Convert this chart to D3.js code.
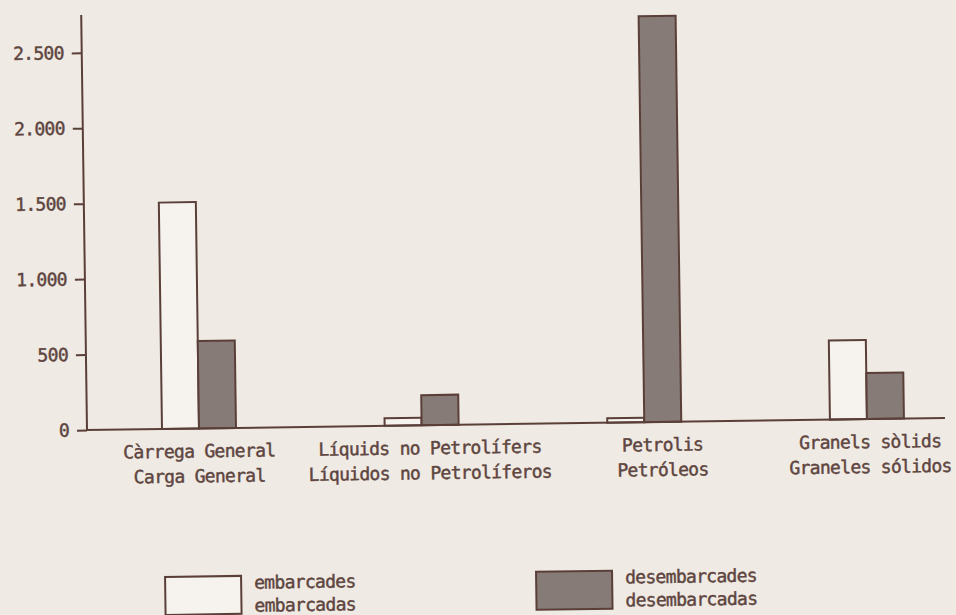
<!DOCTYPE html>
<html>
<head>
<meta charset="utf-8">
<script src="https://cdn.jsdelivr.net/npm/d3@7"></script>
<style>
  html, body { margin: 0; padding: 0; background: #efeae3; }
  svg { display: block; }
  text { font-family: 'DejaVu Sans Mono', 'Liberation Mono', monospace; font-size: 18px; letter-spacing: -0.7px; fill: #5e4540; stroke: #5e4540; stroke-width: 0.45px; }
</style>
</head>
<body>
<div id="chart"></div>
<script>
const categoriesCa = ['Càrrega General', 'Líquids no Petrolífers', 'Petrolis', 'Granels sòlids']
const categoriesEs = ['Carga General', 'Líquidos no Petrolíferos', 'Petróleos', 'Graneles sólidos']
const series = ['embarcades', 'desembarcades']
const seriesEs = ['embarcadas', 'desembarcadas']
const embarcades = [1500, 50, 30, 525]
const desembarcades = [580, 200, 2690, 305]
const yTicks = [0, 500, 1000, 1500, 2000, 2500]

const width = 956
const height = 615
const ink = '#5a3f39'
const fills = { embarcades: '#f6f3ee', desembarcades: '#877b77' }

const data = categoriesCa.map((c, i) => ({
  cat: c,
  embarcades: embarcades[i],
  desembarcades: desembarcades[i]
}))

const svg = d3.select('#chart')
  .append('svg')
  .attr('width', width)
  .attr('height', height)

// scanned page is slightly tilted
const g = svg.append('g')
  .attr('transform', 'rotate(-0.8, 87, 430)')

const x = d3.scalePoint()
  .domain(categoriesCa)
  .range([199, 867])

const xSub = d3.scaleBand()
  .domain(series)
  .range([-37, 37])
  .padding(0)

const y = d3.scaleLinear()
  .domain([0, 2750])
  .range([430, 15])

const fmt = d3.formatLocale({ decimal: ',', thousands: '.', grouping: [3], currency: ['', ''] }).format(',d')

const yAxis = g.append('g')
  .attr('transform', 'translate(87,0)')
  .call(d3.axisLeft(y).tickValues(yTicks).tickSize(10).tickPadding(8).tickFormat(fmt))
yAxis.select('.domain').remove()
yAxis.selectAll('line').attr('stroke', ink).attr('stroke-width', 2)
yAxis.selectAll('text')
  .attr('font-family', null)
  .attr('font-size', null)
  .attr('fill', null)

g.append('line')
  .attr('x1', 87).attr('x2', 87)
  .attr('y1', y(2750)).attr('y2', y(0))
  .attr('stroke', ink).attr('stroke-width', 2)

// bars
const groups = g.selectAll('.cat')
  .data(data)
  .enter()
  .append('g')
  .attr('class', 'cat')
  .attr('transform', d => `translate(${x(d.cat)},0)`)

groups.selectAll('rect')
  .data(d => series.map(s => ({ key: s, value: d[s] })))
  .enter()
  .append('rect')
  .attr('x', d => xSub(d.key))
  .attr('width', xSub.bandwidth())
  .attr('y', d => y(d.value))
  .attr('height', d => y(0) - y(d.value))
  .attr('fill', d => fills[d.key])
  .attr('stroke', ink)
  .attr('stroke-width', 2)

g.append('line')
  .attr('x1', 86).attr('x2', 945)
  .attr('y1', y(0)).attr('y2', y(0))
  .attr('stroke', ink).attr('stroke-width', 2)

// category labels
const labelShift = [0, 8, 18, 3]
const labels = g.selectAll('.lbl')
  .data(categoriesCa)
  .enter()
  .append('text')
  .attr('class', 'lbl')
  .attr('text-anchor', 'middle')
labels.append('tspan')
  .attr('x', (d, i) => x(d) + labelShift[i])
  .attr('y', 459)
  .text(d => d)
labels.append('tspan')
  .attr('x', (d, i) => x(d) + labelShift[i])
  .attr('y', 484)
  .text((d, i) => categoriesEs[i])

// legend
const legendX = [163, 534]
const legend = g.selectAll('.legend')
  .data(series)
  .enter()
  .append('g')
  .attr('class', 'legend')
  .attr('transform', (d, i) => `translate(${legendX[i]},578)`)

legend.append('rect')
  .attr('width', 76)
  .attr('height', 38)
  .attr('fill', d => fills[d])
  .attr('stroke', ink)
  .attr('stroke-width', 2)

legend.append('text')
  .attr('x', 89)
  .attr('y', 13)
  .text(d => d)
legend.append('text')
  .attr('x', 89)
  .attr('y', 36)
  .text((d, i) => seriesEs[i])
</script>
</body>
</html>
